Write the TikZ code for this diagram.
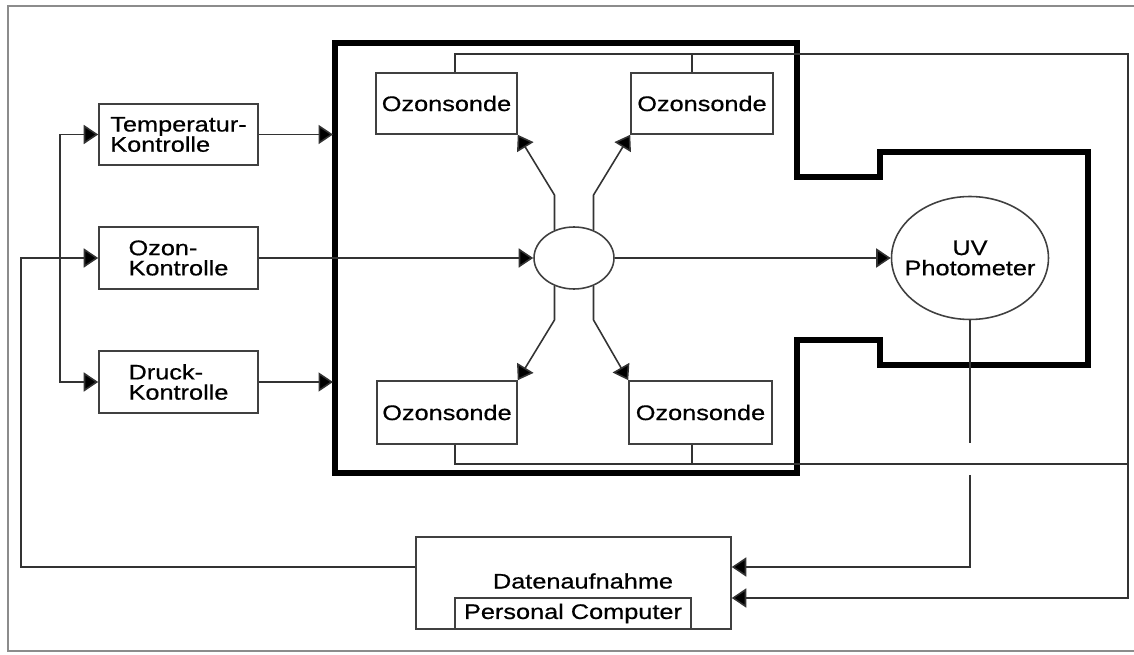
\documentclass[tikz,border=0pt]{standalone}
\usepackage{fontspec}
\setmainfont[FakeStretch=1.2,FakeBold=0.6]{Liberation Sans}
\usetikzlibrary{arrows.meta,shapes.geometric}

\begin{document}
\begin{tikzpicture}[x=0.02cm, y=-0.02cm, line width=0.9pt, draw=black!80,
		>={Triangle[length=0.29cm,width=0.38cm,fill=black]},
		every node/.style={font=\fontsize{12}{11.5}\selectfont, text=black},
		box/.style={draw=black!75, rectangle, inner sep=0pt, align=left},
		sonde/.style={box, minimum width=2.82cm, minimum height=1.24cm},
		kontrolle/.style={box, minimum width=3.18cm, minimum height=1.24cm},
		kammer/.style={draw=black, line width=3.3pt, line join=miter},
		rahmen/.style={draw=black!45, line width=1pt}]
		\useasboundingbox (0,0) rectangle (1134,655);
		\draw[rahmen] (1134,6) -- (8,6) -- (8,651) -- (1134,651);
		\draw[kammer] (335,43) -- (797,43) -- (797,177) -- (880,177) -- (880,152)
		      -- (1088,152) -- (1088,365) -- (880,365) -- (880,340) -- (797,340)
		      -- (797,473) -- (335,473) -- cycle;

		\node[kontrolle, minimum height=1.22cm] (temp) at (178.5,134.5) {Temperatur-\\Kontrolle};
		\node[kontrolle] (ozonk) at (178.5,258) {Ozon-\\Kontrolle};
		\node[kontrolle] (druck) at (178.5,382) {Druck-\\Kontrolle};

		\node[sonde, minimum height=1.22cm] (sondeA) at (446.5,103.5) {Ozonsonde};
		\node[sonde, minimum width=2.84cm, minimum height=1.22cm] (sondeB) at (702,103.5) {Ozonsonde};
		\node[sonde, minimum width=2.8cm, minimum height=1.26cm] (sondeC) at (447,412.5) {Ozonsonde};
		\node[sonde, minimum width=2.86cm, minimum height=1.26cm] (sondeD) at (700.5,412.5) {Ozonsonde};

		\node[ellipse, draw=black!75, inner sep=0pt, minimum width=1.6cm, minimum height=1.24cm] (mix) at (574,258) {};
		\node[ellipse, draw=black!75, inner sep=0pt, minimum width=3.14cm, minimum height=2.46cm] (uv) at (970,258) {};
		\node[align=center] (uvtext) at (uv.center) {UV\\Photometer};

		\node[box, minimum width=6.3cm, minimum height=1.84cm] (daten) at (573.5,583) {};
		\node (datentext) at (583,581) {Datenaufnahme};
		\node[box, minimum width=4.72cm, minimum height=0.62cm] (pc) at (573,613.5) {Personal Computer};

		\draw[->] (temp.east) -- (333,0 |- temp.east);
		\draw[->] (druck.east) -- (333,0 |- druck.east);
		\draw[->] (ozonk.east) -- (mix.west);
		\draw[->] (mix.east) -- (uv.west);
		\draw[<->] (temp.west) -| (60,258) |- (druck.west);
		\draw[->] (daten.west |- 0,567) -| (21,258) -- (ozonk.west);

		\draw[->] (mix.125) -- (mix.125 |- 0,195) -- (sondeA.south east);
		\draw[->] (mix.55) -- (mix.55 |- 0,195) -- (sondeB.south west);
		\draw[->] (mix.235) -- (mix.235 |- 0,320) -- (sondeC.north east);
		\draw[->] (mix.305) -- (mix.305 |- 0,320) -- (sondeD.north west);

		\draw (455,0 |- sondeA.north) |- (1128,54) -- (1128,464);
		\draw (692,0 |- sondeB.north) -- (692,54);
		\draw (455,0 |- sondeC.south) |- (1128,464);
		\draw (692,0 |- sondeD.south) -- (692,464);
		\draw[->] (1128,464) |- (daten.east |- 0,598);

		\draw (uv.south) -- (uv.south |- 0,443);
		\draw[->] (uv.south |- 0,475) |- (daten.east |- 0,567);
\end{tikzpicture}
\end{document}
